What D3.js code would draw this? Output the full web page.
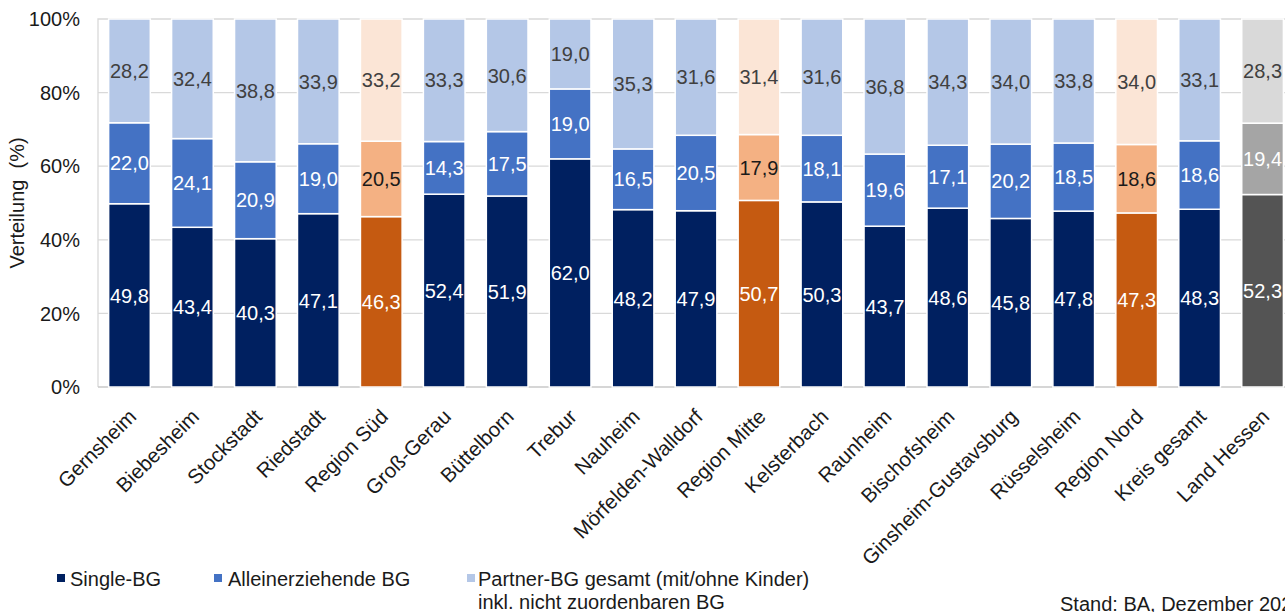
<!DOCTYPE html>
<html><head><meta charset="utf-8">
<script src="https://cdn.jsdelivr.net/npm/d3@7"></script>
<style>html,body{margin:0;padding:0;background:#fff;overflow:hidden;}svg{display:block;font-family:"Liberation Sans",Arial,sans-serif;}</style>
</head><body>
<script>
const categories = ["Gernsheim","Biebesheim","Stockstadt","Riedstadt","Region Süd","Groß-Gerau","Büttelborn","Trebur","Nauheim","Mörfelden-Walldorf","Region Mitte","Kelsterbach","Raunheim","Bischofsheim","Ginsheim-Gustavsburg","Rüsselsheim","Region Nord","Kreis gesamt","Land Hessen"];
const singleBG = [49.8,43.4,40.3,47.1,46.3,52.4,51.9,62.0,48.2,47.9,50.7,50.3,43.7,48.6,45.8,47.8,47.3,48.3,52.3];
const alleinBG = [22.0,24.1,20.9,19.0,20.5,14.3,17.5,19.0,16.5,20.5,17.9,18.1,19.6,17.1,20.2,18.5,18.6,18.6,19.4];
const partnerBG = [28.2,32.4,38.8,33.9,33.2,33.3,30.6,19.0,35.3,31.6,31.4,31.6,36.8,34.3,34.0,33.8,34.0,33.1,28.3];
const barType = ["m","m","m","m","r","m","m","m","m","m","r","m","m","m","m","m","r","m","h"];
const yTicks = [0,20,40,60,80,100];
const seriesNames = ["Single-BG","Alleinerziehende BG","Partner-BG gesamt (mit/ohne Kinder)"];

const palette = {
  m: {fill:["#002060","#4472C4","#B4C7E7"], text:["#ffffff","#ffffff","#404040"]},
  r: {fill:["#C55A11","#F4B183","#FBE5D6"], text:["#ffffff","#1a1a1a","#404040"]},
  h: {fill:["#545454","#A5A5A5","#D9D9D9"], text:["#ffffff","#ffffff","#404040"]}
};

const W = 1285, H = 612;
const svg = d3.select("body").append("svg").attr("width",W).attr("height",H);
const pLeft = 98, pTop = 19, pBottom = 387, pRight = 98 + 19*62.95;

const x = d3.scaleBand().domain(categories).range([pLeft, pRight]).paddingInner(0.338).paddingOuter(0.169);
const y = d3.scaleLinear().domain([0,100]).range([pBottom, pTop]);

// gridlines
svg.append("g").selectAll("line").data(yTicks.filter(t=>t>0 && t<100)).join("line")
  .attr("x1",pLeft).attr("x2",pRight).attr("y1",d=>y(d)).attr("y2",d=>y(d))
  .attr("stroke","#D9D9D9").attr("stroke-width",1.3);

// frame
svg.append("path").attr("d",`M${pLeft},${pBottom}V${pTop}H${pRight}`).attr("fill","none").attr("stroke","#D9D9D9").attr("stroke-width",1.3);
svg.append("line").attr("x1",pLeft).attr("x2",pRight).attr("y1",pBottom).attr("y2",pBottom).attr("stroke","#C8C8C8").attr("stroke-width",1.5);

// data
const rows = categories.map((c,i)=>{
  const vals=[singleBG[i],alleinBG[i],partnerBG[i]];
  let acc=0; const segs=vals.map((v,k)=>{const s={k,v,y0:acc,y1:acc+v}; acc+=v; return s;});
  segs[2].y1 = 100;
  return {c,i,type:barType[i],segs};
});

const g = svg.append("g");
rows.forEach(r=>{
  const pal = palette[r.type];
  r.segs.forEach(s=>{
    g.append("rect").attr("x",x(r.c)).attr("width",x.bandwidth())
      .attr("y",y(s.y1)).attr("height",y(s.y0)-y(s.y1))
      .attr("fill",pal.fill[s.k]).attr("stroke","#ffffff").attr("stroke-width",1.5);
  });
  r.segs.forEach(s=>{
    g.append("text").attr("x",x(r.c)+x.bandwidth()/2).attr("y",y((s.y0+s.y1)/2))
      .attr("dy","0.36em").attr("text-anchor","middle").attr("font-size",20)
      .attr("fill",pal.text[s.k]).text(d3.format(".1f")(s.v).replace(".",","));
  });
});

// y axis labels
svg.append("g").selectAll("text").data(yTicks).join("text")
  .attr("x",80).attr("y",d=>y(d)).attr("dy","0.36em").attr("text-anchor","end")
  .attr("font-size",20).attr("fill","#1a1a1a").text(d=>d+"%");

svg.append("text").attr("transform",`translate(24,203) rotate(-90)`).attr("text-anchor","middle")
  .attr("font-size",20).attr("fill","#1a1a1a").style("white-space","pre").text("Verteilung  (%)");

// category labels
svg.append("g").selectAll("text").data(categories).join("text")
  .attr("transform",d=>`translate(${x(d)+x.bandwidth()/2+8},418) rotate(-45)`)
  .attr("text-anchor","end").attr("font-size",20.5).attr("fill","#1a1a1a").text(d=>d);

// legend
const leg = [{x:57,tx:70},{x:214,tx:228},{x:467,tx:478}];
leg.forEach((l,k)=>{
  svg.append("rect").attr("x",l.x).attr("y",574).attr("width",8).attr("height",8).attr("fill",palette.m.fill[k]);
  svg.append("text").attr("x",l.tx).attr("y",586).attr("font-size",20).attr("fill","#1a1a1a").text(seriesNames[k]);
});
svg.append("text").attr("x",478).attr("y",609).attr("font-size",20).attr("fill","#1a1a1a").text("inkl. nicht zuordenbaren BG");
svg.append("text").attr("x",1060).attr("y",611).attr("font-size",20).attr("fill","#1a1a1a").text("Stand: BA, Dezember 2023");
</script>
</body></html>
